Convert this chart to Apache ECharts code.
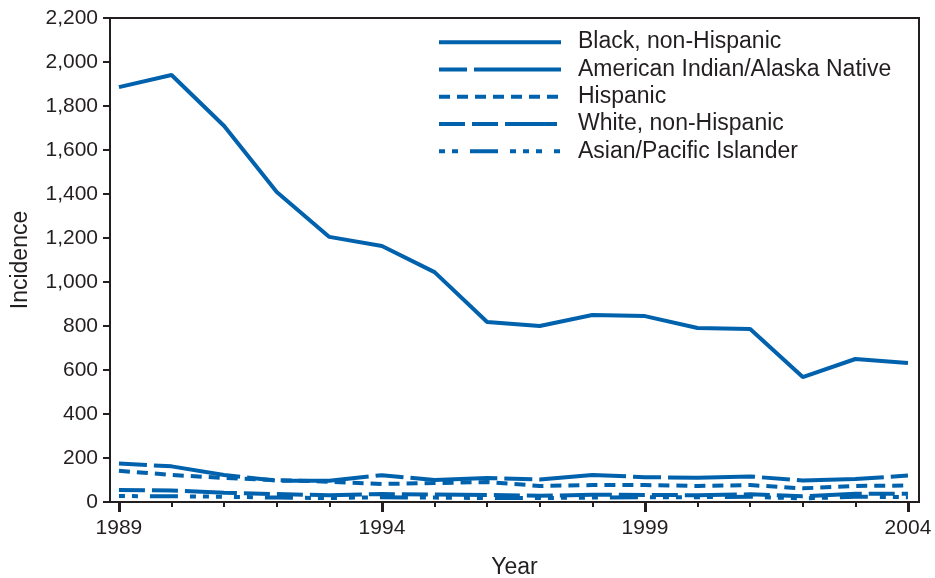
<!DOCTYPE html>
<html><head><meta charset="utf-8">
<script src="https://cdn.jsdelivr.net/npm/echarts@6/dist/echarts.min.js"></script>
<style>html,body{margin:0;padding:0;background:#fff}#c{width:935px;height:578px}</style>
</head><body><div id="c"></div>
<script>
const years = [1989,1990,1991,1992,1993,1994,1995,1996,1997,1998,1999,2000,2001,2002,2003,2004];
const majorYears = [1989,1994,1999,2004];
const black = [1886,1941,1709,1409,1205,1164,1045,818,800,850,845,791,786,568,650,632];
const aian = [175,162,123,97,97,122,100,109,102,123,113,110,116,98,104,120];
const hispanic = [142,123,109,100,92,82,86,91,73,77,77,73,77,62,73,75];
const white = [55,52,42,36,31,36,34,32,28,33,32,31,35,26,37,38];
const asian = [27,26,24,20,18,22,20,18,18,20,22,22,24,16,24,22];
const names = ['Black, non-Hispanic','American Indian/Alaska Native','Hispanic','White, non-Hispanic','Asian/Pacific Islander'];

const C = '#0061ad', K = '#231f20';
const F = 'Liberation Sans, Arial, sans-serif';
const pair = a => years.map((y,i)=>[y,a[i]]);
function ser(name, data, type){
  return {name, type:'line', data:pair(data), symbol:'none', xAxisIndex:0,
    lineStyle:{color:C, width:4, type:type, cap:'butt'}, itemStyle:{color:C}};
}
const chart = echarts.init(document.getElementById('c'));
chart.setOption({
  animation:false,
  grid:{left:110, right:16, top:18, bottom:76, show:true, borderColor:K, borderWidth:2,
    backgroundColor:'transparent', outerBoundsMode:'none', containLabel:false},
  legend:{left:437, top:28.5, padding:0, orient:'vertical', itemWidth:122, itemHeight:14, itemGap:0,
    itemStyle:{opacity:0}, lineStyle:{width:4},
    textStyle:{fontFamily:F, fontSize:23, lineHeight:27.3, color:K, padding:[0,0,0,12]},
    data:names},
  xAxis:[{type:'value', min:1988.83, max:2004.21, position:'bottom',
    name:'Year', nameLocation:'middle', nameGap:54, nameTextStyle:{fontFamily:F, fontSize:23, color:K},
    axisLine:{lineStyle:{color:K, width:2}},
    axisTick:{show:true, length:5, lineStyle:{color:K, width:2}, customValues:years},
    axisLabel:{fontFamily:F, fontSize:21, color:K, margin:16, customValues:majorYears, formatter:v=>String(v)},
    splitLine:{show:false}},
   {type:'value', min:1988.83, max:2004.21, position:'bottom',
    axisLine:{show:false},
    axisTick:{show:true, length:10, lineStyle:{color:K, width:3}, customValues:majorYears},
    axisLabel:{show:false}, splitLine:{show:false}}],
  yAxis:{type:'value', min:0, max:2200, interval:200,
    name:'Incidence', nameLocation:'middle', nameGap:78, nameRotate:90,
    nameTextStyle:{fontFamily:F, fontSize:23, color:K},
    axisLine:{show:true, lineStyle:{color:K, width:2}},
    axisTick:{show:true, length:7, lineStyle:{color:K, width:2}},
    axisLabel:{fontFamily:F, fontSize:21, color:K, margin:12, formatter:v=>v.toLocaleString('en-US')},
    splitLine:{show:false}},
  series:[
    ser(names[0], black, 'solid'),
    ser(names[1], aian, [28,7,87,7]),
    ser(names[2], hispanic, [11,7]),
    ser(names[3], white, [26,7,26,7,52,7]),
    ser(names[4], asian, [6,7,6,12,28,12,6,7,6,7,6,12])
  ]
});
</script></body></html>
